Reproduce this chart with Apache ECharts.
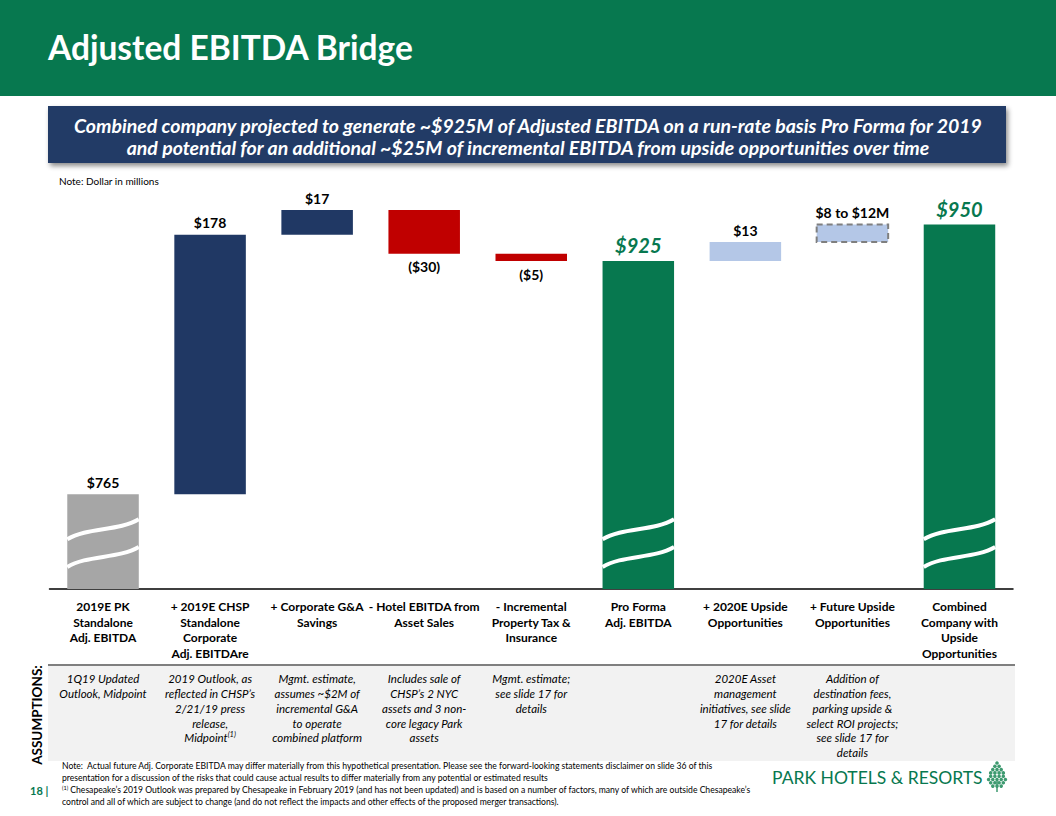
<!DOCTYPE html>
<html><head><meta charset="utf-8">
<script src="https://cdn.jsdelivr.net/npm/echarts@6/dist/echarts.min.js"></script>
<style>html,body{margin:0;padding:0;background:#fff}#chart{width:1056px;height:816px}</style>
</head><body><div id="chart"></div>
<script>
// ---------------- DATA ----------------
const categories = [
  '2019E PK\nStandalone\nAdj. EBITDA',
  '+ 2019E CHSP\nStandalone\nCorporate\nAdj. EBITDAre',
  '+ Corporate G&A\nSavings',
  '- Hotel EBITDA from\nAsset Sales',
  '- Incremental\nProperty Tax &\nInsurance',
  'Pro Forma\nAdj. EBITDA',
  '+ 2020E Upside\nOpportunities',
  '+ Future Upside\nOpportunities',
  'Combined\nCompany with\nUpside\nOpportunities'
];
const stepTypes = ['start', 'increase', 'increase', 'decrease', 'decrease', 'total', 'upside', 'range', 'total'];
const stepValues = [765, 178, 17, -30, -5, 925, 13, 12, 950];
const valueLabels = ['$765', '$178', '$17', '($30)', '($5)', '$925', '$13', '$8 to $12M', '$950'];
const assumptions = [
  '1Q19 Updated\nOutlook, Midpoint',
  '2019 Outlook, as\nreflected in CHSP\u2019s\n2/21/19 press\nrelease,\nMidpoint(1)',
  'Mgmt. estimate,\nassumes ~$2M of\nincremental G&A\nto operate\ncombined platform',
  'Includes sale of\nCHSP\u2019s 2 NYC\nassets and 3 non-\ncore legacy Park\nassets',
  'Mgmt. estimate;\nsee slide 17 for\ndetails',
  '',
  '2020E Asset\nmanagement\ninitiatives, see slide\n17 for details',
  'Addition of\ndestination fees,\nparking upside &\nselect ROI projects;\nsee slide 17 for\ndetails',
  ''
];
const axisMin = 700;
const axisMax = 960;
const breakLevels = [741, 722];

// ------------- build waterfall ranges -------------
let running = 0;
const barData = stepValues.map((v, i) => {
  let low, high;
  if (stepTypes[i] === 'start' || stepTypes[i] === 'total') {
    low = axisMin; high = v; running = v;
  } else {
    low = Math.min(running, running + v);
    high = Math.max(running, running + v);
    running += v;
  }
  return [i, low, high];
});

const C = {
  green: '#07784F', navy: '#203864', red: '#C00000', gray: '#A6A6A6',
  light: '#B4C7E7', banner: '#213B66'
};
const FONT = 'Lato, "Open Sans", sans-serif';

function renderBar(params, api) {
  const i = api.value(0), low = api.value(1), high = api.value(2);
  const type = stepTypes[i];
  const top = api.coord([i, high]);
  const bot = api.coord([i, low]);
  const bw = api.size([1, 0])[0] * 0.668;
  const x = top[0] - bw / 2;
  const h = bot[1] - top[1];
  const children = [];
  let fill = C.navy;
  if (type === 'start') fill = C.gray;
  else if (type === 'total') fill = C.green;
  else if (type === 'decrease') fill = C.red;
  else if (type === 'upside' || type === 'range') fill = C.light;
  const rectStyle = { fill: fill };
  if (type === 'range') { rectStyle.stroke = '#7F7F7F'; rectStyle.lineWidth = 2; rectStyle.lineDash = [6, 4]; }
  children.push({ type: 'rect', shape: { x: x, y: top[1], width: bw, height: h }, style: rectStyle });

  if (type === 'start' || type === 'total') {
    breakLevels.forEach(lv => {
      const yc = api.coord([i, lv])[1];
      const L = x, R = x + bw;
      children.push({
        type: 'bezierCurve',
        shape: { x1: L, y1: yc + 10, cpx1: L + 0.28 * bw, cpy1: yc - 2, cpx2: R - 0.28 * bw, cpy2: yc + 2, x2: R, y2: yc - 10 },
        style: { stroke: '#fff', lineWidth: 4, fill: null }
      });
    });
  }

  // value label
  const isGreen = type === 'total';
  const below = type === 'decrease';
  children.push({
    type: 'text',
    style: {
      text: valueLabels[i],
      x: top[0],
      y: below ? bot[1] + 6 : top[1] - (isGreen ? 6 : 5),
      align: 'center', textAlign: 'center',
      verticalAlign: below ? 'top' : 'bottom', textVerticalAlign: below ? 'top' : 'bottom',
      font: isGreen ? 'italic bold 20px ' + FONT : 'bold 14px ' + FONT,
      fill: isGreen ? C.green : '#000'
    }
  });
  return { type: 'group', children: children };
}

// tree logo pieces
const tree = [];
const rows = [1, 2, 3, 4, 4, 5, 4, 3];
rows.forEach((n, r) => {
  for (let k = 0; k < n; k++) {
    tree.push({
      type: 'circle',
      shape: { cx: 997 + (k - (n - 1) / 2) * 4.2, cy: 763 + r * 3.3, r: 1.8 },
      style: { fill: '#3E9A70' }
    });
  }
});
tree.push({ type: 'line', shape: { x1: 997, y1: 780, x2: 997, y2: 792 }, style: { stroke: '#3E9A70', lineWidth: 1.5 } });

const FOOT = '8.6px ' + FONT;
const chart = echarts.init(document.getElementById('chart'), null, { renderer: 'svg' });
chart.setOption({
  animation: false,
  backgroundColor: '#fff',
  grid: { left: 49.5, right: 43, top: 210, bottom: 227 },
  xAxis: [
    {
      type: 'category', data: categories,
      axisLine: { lineStyle: { color: '#000', width: 1.5 } },
      axisTick: { show: false },
      axisLabel: { interval: 0, fontFamily: FONT, fontWeight: 'bold', fontSize: 12, color: '#000', lineHeight: 15.5, margin: 10 }
    },
    {
      type: 'category', data: assumptions, position: 'bottom', offset: 72,
      axisLine: { show: false }, axisTick: { show: false },
      axisLabel: {
        interval: 0, fontFamily: FONT, fontStyle: 'italic', fontSize: 11.5, color: '#000', lineHeight: 14.8, margin: 10.4,
        formatter: v => v.replace('(1)', '{sup|(1)}'),
        rich: { sup: { fontSize: 7.5, fontStyle: 'italic', fontFamily: FONT, verticalAlign: 'top', lineHeight: 14.8, padding: [0, 0, 6, 0] } }
      }
    }
  ],
  yAxis: { type: 'value', min: axisMin, max: axisMax, show: false },
  series: [{
    type: 'custom', xAxisIndex: 0, renderItem: renderBar, data: barData, clip: false
  }],
  graphic: [
    { type: 'rect', z: -20, shape: { x: 0, y: 0, width: 1056, height: 96 }, style: { fill: C.green } },
    { type: 'text', style: { text: 'Adjusted EBITDA Bridge', x: 48, y: 47, font: 'bold 33.5px ' + FONT, fill: '#fff', verticalAlign: 'middle', textVerticalAlign: 'middle' } },
    { type: 'rect', shape: { x: 48, y: 106, width: 958, height: 57 }, style: { fill: C.banner, shadowBlur: 5, shadowOffsetX: 2, shadowOffsetY: 3, shadowColor: 'rgba(0,0,0,0.45)' } },
    { type: 'text', style: { text: 'Combined company projected to generate ~$925M of Adjusted EBITDA on a run-rate basis Pro Forma for 2019', x: 528, y: 125, font: 'italic bold 19.5px ' + FONT, fill: '#fff', align: 'center', textAlign: 'center', verticalAlign: 'middle', textVerticalAlign: 'middle' } },
    { type: 'text', style: { text: 'and potential for an additional ~$25M of incremental EBITDA from upside opportunities over time', x: 528, y: 147, font: 'italic bold 19.5px ' + FONT, fill: '#fff', align: 'center', textAlign: 'center', verticalAlign: 'middle', textVerticalAlign: 'middle' } },
    { type: 'text', style: { text: 'Note: Dollar in millions', x: 59, y: 181, font: '10px ' + FONT, fill: '#000', verticalAlign: 'middle', textVerticalAlign: 'middle' } },
    { type: 'rect', z: -10, shape: { x: 48, y: 666, width: 967, height: 95 }, style: { fill: '#F2F2F2' } },
    { type: 'line', shape: { x1: 48, y1: 665, x2: 1015, y2: 665 }, style: { stroke: '#7F7F7F', lineWidth: 2 } },
    { type: 'text', x: 37, y: 715, rotation: Math.PI / 2, style: { text: 'ASSUMPTIONS:', x: 0, y: 0, font: 'bold 13.5px ' + FONT, fill: '#000', align: 'center', textAlign: 'center', verticalAlign: 'middle', textVerticalAlign: 'middle' } },
    { type: 'text', style: { text: 'Note:  Actual future Adj. Corporate EBITDA may differ materially from this hypothetical presentation. Please see the forward-looking statements disclaimer on slide 36 of this', x: 62, y: 766, font: FOOT, fill: '#000', verticalAlign: 'middle', textVerticalAlign: 'middle' } },
    { type: 'text', style: { text: 'presentation for a discussion of the risks that could cause actual results to differ materially from any potential or estimated results', x: 62, y: 778, font: FOOT, fill: '#000', verticalAlign: 'middle', textVerticalAlign: 'middle' } },
    { type: 'text', style: { text: '{sup|(1)} Chesapeake\u2019s 2019 Outlook was prepared by Chesapeake in February 2019 (and has not been updated) and is based on a number of factors, many of which are outside Chesapeake\u2019s', x: 62, y: 790, font: FOOT, fill: '#000', verticalAlign: 'middle', textVerticalAlign: 'middle', rich: { sup: { fontSize: 5.5, fontFamily: FONT, verticalAlign: 'top', padding: [0, 0, 4, 0] } } } },
    { type: 'text', style: { text: 'control and all of which are subject to change (and do not reflect the impacts and other effects of the proposed merger transactions).', x: 62, y: 802, font: FOOT, fill: '#000', verticalAlign: 'middle', textVerticalAlign: 'middle' } },
    { type: 'text', style: { text: '18 |', x: 30, y: 790, font: 'bold 11px ' + FONT, fill: C.green, verticalAlign: 'middle', textVerticalAlign: 'middle' } },
    { type: 'text', style: { text: 'PARK HOTELS & RESORTS', x: 772, y: 777, font: '17.5px ' + FONT, fill: C.green, verticalAlign: 'middle', textVerticalAlign: 'middle' } }
  ].concat(tree)
});
</script>
</body></html>
